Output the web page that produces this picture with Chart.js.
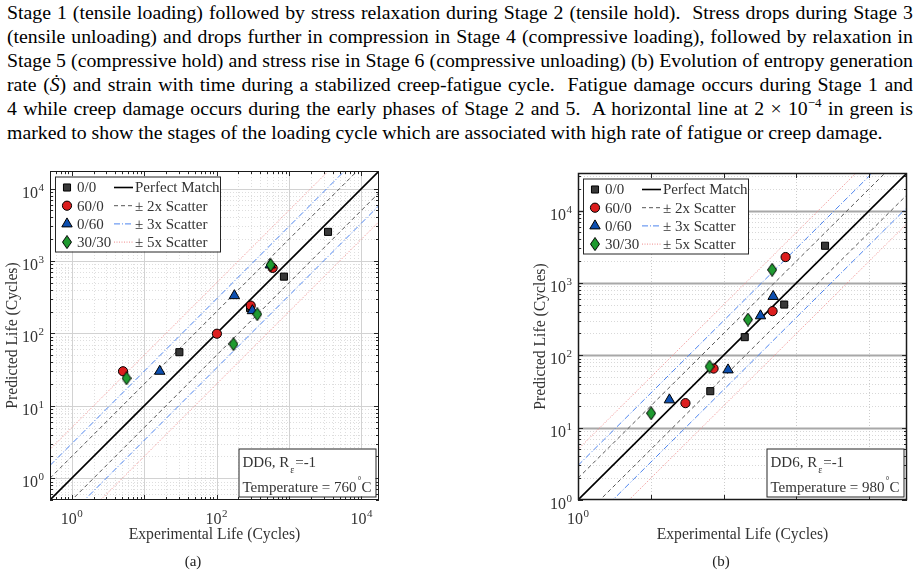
<!DOCTYPE html>
<html>
<head>
<meta charset="utf-8">
<script src="https://cdn.jsdelivr.net/npm/chart.js@4.4.1/dist/chart.umd.min.js"></script>
<style>
    body { margin: 0; background: #fff; width: 915px; height: 578px; overflow: hidden; position: relative; font-family: "Liberation Serif", serif; }
    #para { position: absolute; left: 7px; top: 0; width: 906px; font-size: 19.8px; line-height: 24px; color: #000; }
    #para div { text-align: justify; text-align-last: justify; white-space: nowrap; height: 24px; }
    #para div.last { text-align-last: left; }
    #para sup { font-size: 13px; line-height: 0; }
    canvas { position: absolute; }
    .cap { position: absolute; top: 553px; font-size: 15px; color: #222; transform: translateX(-50%); }
</style>
</head>
<body>
<div id="para">
    <div>Stage 1 (tensile loading) followed by stress relaxation during Stage 2 (tensile hold).&nbsp; Stress drops during Stage 3</div>
    <div>(tensile unloading) and drops further in compression in Stage 4 (compressive loading), followed by relaxation in</div>
    <div>Stage 5 (compressive hold) and stress rise in Stage 6 (compressive unloading) (b) Evolution of entropy generation</div>
    <div>rate (<i>Ṡ</i>) and strain with time during a stabilized creep-fatigue cycle.&nbsp; Fatigue damage occurs during Stage 1 and</div>
    <div>4 while creep damage occurs during the early phases of Stage 2 and 5.&nbsp; A horizontal line at 2 × 10<sup>−4</sup> in green is</div>
    <div class="last">marked to show the stages of the loading cycle which are associated with high rate of fatigue or creep damage.</div>
</div>
<canvas id="chartA" width="420" height="410" style="left:0;top:150px"></canvas>
<canvas id="chartB" width="425" height="410" style="left:490px;top:150px"></canvas>
<div class="cap" style="left:193px">(a)</div>
<div class="cap" style="left:721px">(b)</div>
<script>
// series names, in legend order
const seriesLabels = ['0/0', '60/0', '0/60', '30/30'];

// (a) 760 C : experimental vs predicted life
const a00Exp = [30.6, 290, 851, 3460];
const a00Pred = [55, 224, 608, 2525];
const a600Exp = [5.1, 101, 296, 595];
const a600Pred = [30, 99, 242, 803];
const a060Exp = [16.4, 176, 312, 551];
const a060Pred = [30, 332, 206, 883];
const a3030Exp = [5.7, 171, 365, 558];
const a3030Pred = [24, 71, 184, 883];

// (b) 980 C
const b00Exp = [65.6, 195, 679, 2472];
const b00Pred = [31.9, 178, 502, 3260];
const b600Exp = [29.9, 72.8, 470, 710];
const b600Pred = [21.8, 65.5, 407, 2275];
const b060Exp = [18, 115, 321, 479];
const b060Pred = [24.2, 62.8, 351, 650];
const b3030Exp = [10.1, 64.1, 216, 464];
const b3030Pred = [15.8, 69.8, 312, 1518];

// scatter bands
const bandFactors = [1, 2, 3, 5];
const bandLabels = ['Perfect Match', '\u00b1 2x Scatter', '\u00b1 3x Scatter', '\u00b1 5x Scatter'];

// axis limits and labelled decades
const limitsA = [0.5, 17500];
const limitsB = [1, 33000];
const xExpA = [0, 2, 4];
const yExpA = [0, 1, 2, 3, 4];
const xExpB = [0];
const yExpB = [0, 1, 2, 3, 4];

const xTitle = 'Experimental Life (Cycles)';
const yTitle = 'Predicted Life (Cycles)';
const tempA = '760';
const tempB = '980';

const markerFill = ['#383838', '#dc1e1e', '#0d4fb0', '#1f9a30'];
const markerStyle = ['rect', 'circle', 'triangle', 'diamond'];
const bandColor = ['#000000', '#555555', '#4d84ee', '#f08a8a'];
const bandDash = [[], [4, 3], [6, 2, 1, 2], [1, 1.5]];
const bandWidth = [1.6, 1, 1, 1];

const TXT = '#333333';

function diamondImage() {
    const c = document.createElement('canvas');
    c.width = 10; c.height = 14;
    const g = c.getContext('2d');
    g.beginPath();
    g.moveTo(5, 0.5); g.lineTo(9.5, 7); g.lineTo(5, 13.5); g.lineTo(0.5, 7); g.closePath();
    g.fillStyle = markerFill[3]; g.fill();
    g.lineWidth = 1; g.strokeStyle = '#000'; g.stroke();
    return c;
}
const diamond = diamondImage();

function toPoints(xs, ys) {
    return xs.map((v, i) => ({ x: v, y: ys[i] }));
}

function buildDatasets(exps, preds, limits) {
    const sets = [];
    bandFactors.forEach((k, i) => {
        const factors = k === 1 ? [1] : [k, 1 / k];
        factors.forEach((f, j) => {
            sets.push({
                label: bandLabels[i],
                legend: j === 0,
                band: i,
                data: limits.map(v => ({ x: v, y: v * f })),
                showLine: true,
                borderColor: bandColor[i],
                borderWidth: bandWidth[i],
                borderDash: bandDash[i],
                pointRadius: 0,
                clip: 0,
                order: 20 + i
            });
        });
    });
    const radius = [5, 4.6, 6, 6];
    seriesLabels.forEach((name, i) => {
        sets.push({
            label: name,
            legend: true,
            marker: i,
            data: toPoints(exps[i], preds[i]),
            showLine: false,
            pointStyle: markerStyle[i] === 'diamond' ? diamond : markerStyle[i],
            pointRadius: radius[i],
            backgroundColor: markerFill[i],
            borderColor: '#000',
            borderWidth: 1,
            clip: false,
            order: 10 - i
        });
    });
    return sets;
}

function decades(min, max, withMinor) {
    const out = [];
    for (let e = Math.floor(Math.log10(min)); e <= Math.ceil(Math.log10(max)); e++) {
        for (let m = 1; m <= 9; m++) {
            if (m > 1 && !withMinor) break;
            const v = m * Math.pow(10, e);
            if (v >= min * 0.999 && v <= max * 1.001) out.push({ v: v, major: m === 1 });
        }
    }
    return out;
}

function stroke(ctx, x1, y1, x2, y2, st) {
    ctx.save();
    ctx.strokeStyle = st.color;
    ctx.lineWidth = st.width;
    ctx.setLineDash(st.dash || []);
    ctx.beginPath();
    ctx.moveTo(x1, y1);
    ctx.lineTo(x2, y2);
    ctx.stroke();
    ctx.restore();
}

function powLabel(ctx, exp, x, y, align) {
    ctx.font = '16px "Liberation Serif"';
    const w1 = ctx.measureText('10').width;
    ctx.font = '11px "Liberation Serif"';
    const w2 = ctx.measureText(String(exp)).width;
    const total = w1 + w2 + 0.5;
    const left = align === 'right' ? x - total : x - total / 2;
    ctx.fillStyle = TXT;
    ctx.textAlign = 'left';
    ctx.textBaseline = 'alphabetic';
    ctx.font = '16px "Liberation Serif"';
    ctx.fillText('10', left, y);
    ctx.font = '11px "Liberation Serif"';
    ctx.fillText(String(exp), left + w1 + 0.5, y - 7);
}

function drawMarker(ctx, d, x, y) {
    ctx.save();
    if (typeof d.pointStyle !== 'string') {
        ctx.drawImage(d.pointStyle, x - d.pointStyle.width / 2, y - d.pointStyle.height / 2);
    } else {
        ctx.fillStyle = d.backgroundColor;
        ctx.strokeStyle = '#000';
        ctx.lineWidth = 1;
        Chart.helpers.drawPoint(ctx, { pointStyle: d.pointStyle, radius: d.pointRadius, rotation: 0, borderWidth: 1 }, x, y);
    }
    ctx.restore();
}

// panel settings are kept on the canvas element
const framePlugin = {
    id: 'frame',
    beforeDatasetsDraw(chart) {
        const o = chart.canvas.frameCfg;
        if (!o) return;
        const ctx = chart.ctx;
        const ca = chart.chartArea;
        const xs = chart.scales.x, ys = chart.scales.y;
        ctx.save();
        ctx.beginPath();
        ctx.rect(ca.left, ca.top, ca.right - ca.left, ca.bottom - ca.top);
        ctx.clip();
        const xt = decades(xs.min, xs.max, o.xMinor);
        const yt = decades(ys.min, ys.max, true);
        // minor lines first, majors on top
        [false, true].forEach(pass => {
            xt.filter(t => t.major === pass).forEach(t => {
                const px = Math.round(xs.getPixelForValue(t.v)) + 0.5;
                stroke(ctx, px, ca.top, px, ca.bottom, t.major ? o.majorX : o.minor);
            });
            yt.filter(t => t.major === pass).forEach(t => {
                const py = Math.round(ys.getPixelForValue(t.v)) + 0.5;
                stroke(ctx, ca.left, py, ca.right, py, t.major ? o.majorY : o.minor);
            });
        });
        ctx.restore();
    },
    afterDatasetsDraw(chart) {
        const o = chart.canvas.frameCfg;
        if (!o) return;
        const ctx = chart.ctx;
        const ca = chart.chartArea;
        const xs = chart.scales.x, ys = chart.scales.y;
        const tk = { color: '#262626', width: 1, dash: [] };

        // inner ticks on all four sides
        decades(xs.min, xs.max, o.xMinor).forEach(t => {
            const px = Math.round(xs.getPixelForValue(t.v)) + 0.5;
            const len = t.major ? 5 : 3;
            stroke(ctx, px, ca.bottom, px, ca.bottom - len, tk);
            stroke(ctx, px, ca.top, px, ca.top + len, tk);
        });
        decades(ys.min, ys.max, true).forEach(t => {
            const py = Math.round(ys.getPixelForValue(t.v)) + 0.5;
            const len = t.major ? 5 : 3;
            stroke(ctx, ca.left, py, ca.left + len, py, tk);
            stroke(ctx, ca.right, py, ca.right - len, py, tk);
        });

        // axes box
        ctx.save();
        ctx.strokeStyle = '#1a1a1a';
        ctx.lineWidth = o.boxWidth;
        ctx.strokeRect(ca.left + 0.5, ca.top + 0.5, ca.right - ca.left - 1, ca.bottom - ca.top - 1);
        ctx.restore();

        // tick labels
        o.xExp.forEach(e => powLabel(ctx, e, xs.getPixelForValue(Math.pow(10, e)), ca.bottom + 23.5, 'center'));
        o.yExp.forEach(e => powLabel(ctx, e, ca.left - 6, ys.getPixelForValue(Math.pow(10, e)) + 9, 'right'));

        // axis titles
        ctx.save();
        ctx.fillStyle = TXT;
        ctx.font = '15.7px "Liberation Serif"';
        ctx.textAlign = 'center';
        ctx.textBaseline = 'middle';
        ctx.fillText(xTitle, (ca.left + ca.right) / 2, 385);
        ctx.translate(o.yTitleX, (ca.top + ca.bottom) / 2);
        ctx.rotate(-Math.PI / 2);
        ctx.fillText(yTitle, 0, 0);
        ctx.restore();

        // legend (two columns: markers, then bands)
        const lx = ca.left + 5, ly = ca.top + 5.5;
        const lw = 165, lh = 75;
        ctx.save();
        ctx.fillStyle = '#fff';
        ctx.fillRect(lx, ly, lw, lh);
        ctx.strokeStyle = '#262626';
        ctx.lineWidth = 1;
        ctx.strokeRect(lx + 0.5, ly + 0.5, lw, lh);
        ctx.font = '15px "Liberation Serif"';
        ctx.textBaseline = 'middle';
        ctx.textAlign = 'left';
        const sets = chart.data.datasets.filter(d => d.legend);
        const marks = sets.filter(d => d.marker !== undefined);
        const bands = sets.filter(d => d.band !== undefined);
        marks.forEach((d, i) => {
            const cy = ly + 11 + i * 18.2;
            drawMarker(ctx, d, lx + 12, cy);
            ctx.fillStyle = TXT;
            ctx.fillText(d.label, lx + 22, cy + 1);
        });
        bands.forEach((d, i) => {
            const cy = ly + 11 + i * 18.2;
            stroke(ctx, lx + 59, cy, lx + 78, cy, { color: d.borderColor, width: d.borderWidth, dash: d.borderDash });
            ctx.fillStyle = TXT;
            ctx.fillText(d.label, lx + 80, cy + 1);
        });
        ctx.restore();

        // material / temperature box
        const bw = 137, bh = 48;
        const bx = ca.right - 3.5 - bw, by = ca.bottom - 3.5 - bh;
        ctx.save();
        ctx.fillStyle = '#fff';
        ctx.fillRect(bx, by, bw, bh);
        ctx.strokeStyle = '#262626';
        ctx.lineWidth = 1;
        ctx.strokeRect(bx + 0.5, by + 0.5, bw, bh);
        ctx.fillStyle = TXT;
        ctx.textBaseline = 'alphabetic';
        ctx.textAlign = 'left';
        ctx.font = '15px "Liberation Serif"';
        let tx = bx + 4;
        ctx.fillText('DD6, R', tx, by + 18);
        tx += ctx.measureText('DD6, R').width;
        ctx.font = '10px "Liberation Serif"';
        ctx.fillText('\u03b5', tx + 1, by + 24);
        ctx.font = '15px "Liberation Serif"';
        ctx.fillText('=-1', tx + 6, by + 18);
        tx = bx + 4;
        const t1 = 'Temperature = ' + o.temp;
        ctx.fillText(t1, tx, by + 43);
        tx += ctx.measureText(t1).width;
        ctx.font = '10px "Liberation Serif"';
        ctx.fillText('\u00b0', tx + 1, by + 35);
        ctx.font = '15px "Liberation Serif"';
        ctx.fillText('C', tx + 5, by + 43);
        ctx.restore();
    }
};

function makeChart(id, datasets, limits, padding, cfg) {
    const canvas = document.getElementById(id);
    canvas.frameCfg = cfg;
    return new Chart(canvas, {
        type: 'scatter',
        data: { datasets: datasets },
        options: {
            responsive: false,
            animation: false,
            devicePixelRatio: 1,
            events: [],
            layout: { padding: padding },
            scales: {
                x: {
                    type: 'logarithmic', min: limits[0], max: limits[1],
                    ticks: { display: false }, grid: { display: false }, border: { display: false },
                    afterFit: s => { s.height = 60; }
                },
                y: {
                    type: 'logarithmic', min: limits[0], max: limits[1],
                    ticks: { display: false }, grid: { display: false }, border: { display: false },
                    afterFit: s => { s.width = 50; }
                }
            },
            plugins: {
                legend: { display: false },
                tooltip: { enabled: false }
            }
        },
        plugins: [framePlugin]
    });
}

makeChart('chartA',
    buildDatasets([a00Exp, a600Exp, a060Exp, a3030Exp], [a00Pred, a600Pred, a060Pred, a3030Pred], limitsA),
    limitsA,
    { left: 0, top: 21, right: 41, bottom: 0 },
    {
        xMinor: true,
        majorX: { color: '#d2d2d2', width: 1, dash: [] },
        majorY: { color: '#d2d2d2', width: 1, dash: [] },
        minor: { color: '#dedede', width: 1, dash: [1, 2] },
        boxWidth: 1,
        xExp: xExpA, yExp: yExpA, yTitleX: 13, temp: tempA
    });

makeChart('chartB',
    buildDatasets([b00Exp, b600Exp, b060Exp, b3030Exp], [b00Pred, b600Pred, b060Pred, b3030Pred], limitsB),
    limitsB,
    { left: 38, top: 23, right: 8, bottom: 0 },
    {
        xMinor: false,
        majorX: { color: '#cccccc', width: 1, dash: [1, 2] },
        majorY: { color: '#a8a8a8', width: 2, dash: [] },
        minor: { color: '#d8d8d8', width: 1, dash: [1, 2] },
        boxWidth: 1.5,
        xExp: xExpB, yExp: yExpB, yTitleX: 51, temp: tempB
    });
</script>
</body>
</html>
